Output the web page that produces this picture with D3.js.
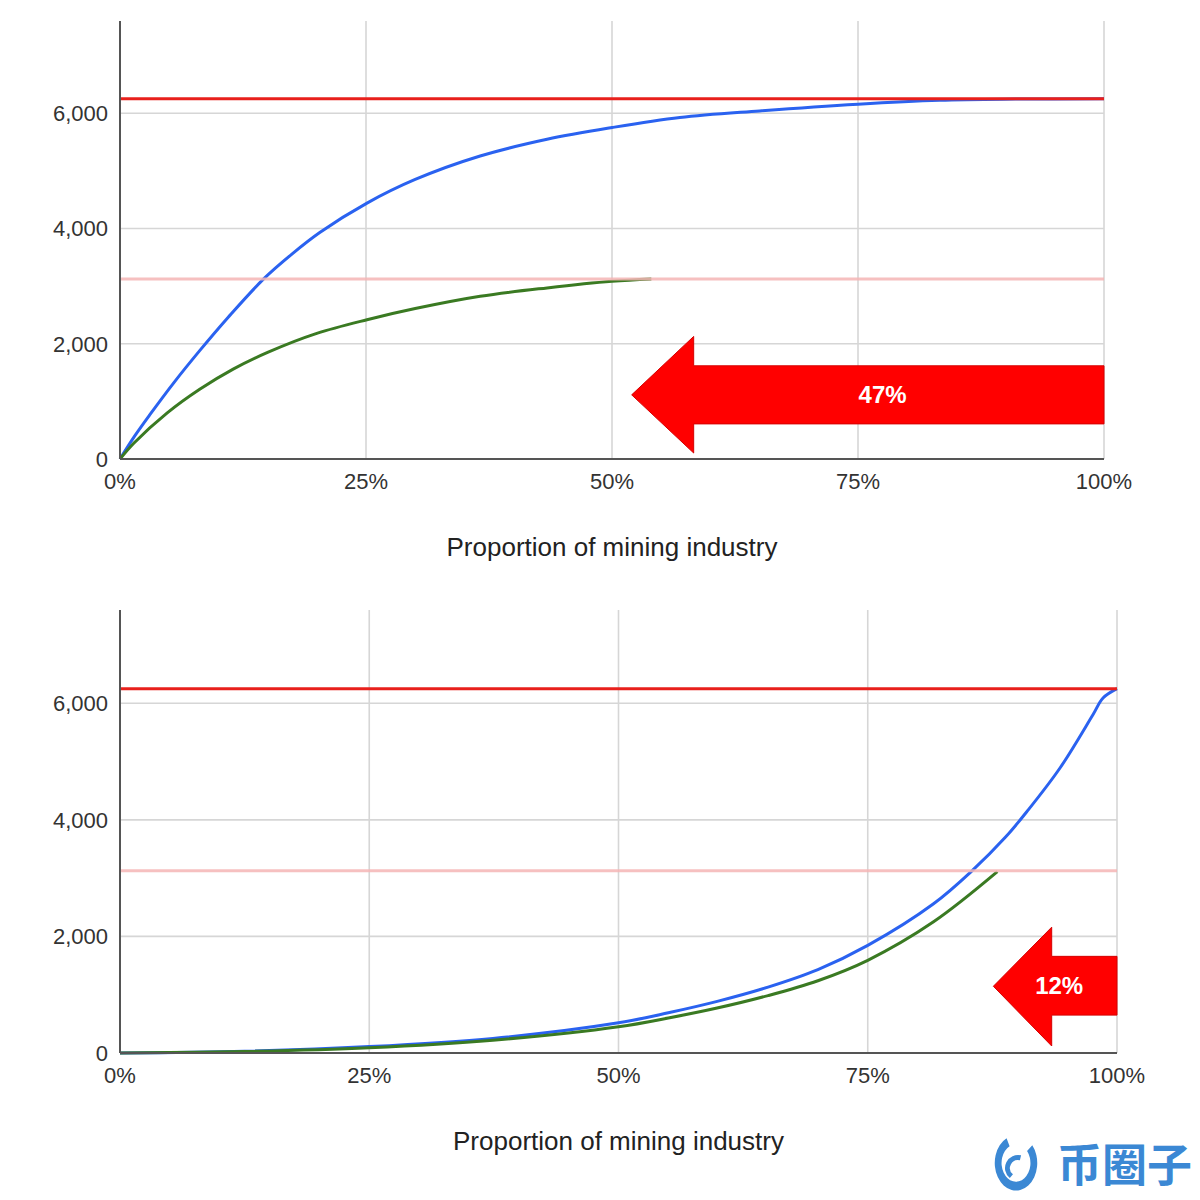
<!DOCTYPE html>
<html>
<head>
<meta charset="utf-8">
<script src="https://cdn.jsdelivr.net/npm/d3@7"></script>
<style>
  body { margin: 0; background: #fff; }
  svg { display: block; font-family: "Liberation Sans", Arial, sans-serif; }
</style>
</head>
<body>
<svg id="chart" width="1200" height="1200"></svg>
<script>
// x = proportion of mining industry (%), y = value
const xTicks = [0, 25, 50, 75, 100];
const yTicks = [0, 2000, 4000, 6000];
const capLevel = 6250;
const halfLevel = 3125;

const topBlue = [[0,0],[1.5,400],[3,760],[5.5,1330],[8.1,1880],[11,2460],[14.6,3125],[17.5,3560],[20.3,3930],[25.1,4440],[30,4850],[36.6,5257],[43.4,5548],[50,5751],[56.9,5925],[65,6040],[75,6157],[83.3,6225],[91,6245],[100,6250]];
const topGreen = [[0,0],[1.4,273],[4.8,800],[8.1,1210],[11.5,1560],[15,1850],[20,2180],[25.1,2417],[30,2610],[36.6,2823],[43.4,2969],[50,3084],[54,3125]];
const bottomBlue = [[0,0],[12.5,30],[25,110],[37.4,251],[50,518],[55,690],[60,890],[65,1130],[70,1430],[75,1846],[81.6,2560],[85.4,3116],[88.8,3700],[91,4150],[94.3,4894],[97.6,5807],[98.6,6090],[100,6250]];
const bottomGreen = [[0,0],[12.5,25],[25,90],[37.4,220],[50,450],[55,600],[60,775],[65,985],[70,1240],[75,1590],[81.6,2250],[88,3110]];

// arrow annotations: [tip x%, tip y, head base x%, head top, head bottom, shaft top, shaft bottom], label
const topArrow = { pts: [52, 1113, 58.3, 2127, 104, 1617, 609], label: "47%" };
const bottomArrow = { pts: [87.6, 1145, 93.45, 2159, 120, 1658, 650], label: "12%" };

const svg = d3.select("#chart");

function drawChart(cfg) {
    const x = d3.scaleLinear().domain([0, 100]).range([cfg.left, cfg.right]);
    const y = d3.scaleLinear().domain([0, 7600]).range([cfg.bottom, cfg.top]);
    const g = svg.append("g");

    // grid
    g.selectAll(".vgrid").data(xTicks.slice(1)).join("line")
        .attr("x1", d => x(d)).attr("x2", d => x(d))
        .attr("y1", cfg.top).attr("y2", cfg.bottom)
        .attr("stroke", "#d6d6d6").attr("stroke-width", 1.6);
    g.selectAll(".hgrid").data(yTicks.slice(1)).join("line")
        .attr("x1", cfg.left).attr("x2", cfg.right)
        .attr("y1", d => y(d)).attr("y2", d => y(d))
        .attr("stroke", "#d6d6d6").attr("stroke-width", 1.6);

    const line = d3.line().x(d => x(d[0])).y(d => y(d[1])).curve(d3.curveCatmullRom.alpha(0.5));

    // arrow
    const a = cfg.arrow.pts;
    const arrowPts = [
        [a[0], a[1]], [a[2], a[3]], [a[2], a[5]], [100, a[5]],
        [100, a[6]], [a[2], a[6]], [a[2], a[4]]
    ];
    g.append("path")
        .attr("d", d3.line().x(d => x(d[0])).y(d => y(d[1]))(arrowPts) + "Z")
        .attr("fill", "#ff0000").attr("stroke", "#d50000").attr("stroke-width", 1);
    g.append("text")
        .attr("x", x(cfg.labelX)).attr("y", y(a[1]) + 8)
        .attr("text-anchor", "middle")
        .attr("font-size", 24).attr("font-weight", "bold")
        .attr("fill", "#fff").text(cfg.arrow.label);

    g.append("path").datum(cfg.blue).attr("d", line)
        .attr("fill", "none").attr("stroke", "#2a62f0").attr("stroke-width", 3);
    g.append("path").datum(cfg.green).attr("d", line)
        .attr("fill", "none").attr("stroke", "#3a7a22").attr("stroke-width", 3);

    g.append("line")
        .attr("x1", cfg.left).attr("x2", cfg.right)
        .attr("y1", y(halfLevel)).attr("y2", y(halfLevel))
        .attr("stroke", "#f5b5b5").attr("stroke-opacity", 0.85).attr("stroke-width", 3);
    g.append("line")
        .attr("x1", cfg.left).attr("x2", cfg.right)
        .attr("y1", y(capLevel)).attr("y2", y(capLevel))
        .attr("stroke", "#e8201c").attr("stroke-width", 3);

    // axes lines
    g.append("line")
        .attr("x1", cfg.left).attr("x2", cfg.left)
        .attr("y1", cfg.top).attr("y2", cfg.bottom)
        .attr("stroke", "#555").attr("stroke-width", 2);
    g.append("line")
        .attr("x1", cfg.left).attr("x2", cfg.right)
        .attr("y1", cfg.bottom).attr("y2", cfg.bottom)
        .attr("stroke", "#555").attr("stroke-width", 2);

    // tick labels
    g.selectAll(".ylab").data(yTicks).join("text")
        .attr("x", cfg.left - 12).attr("y", d => y(d) + 8)
        .attr("text-anchor", "end").attr("font-size", 22).attr("fill", "#333")
        .text(d => d3.format(",")(d));
    g.selectAll(".xlab").data(xTicks).join("text")
        .attr("x", d => x(d)).attr("y", cfg.bottom + 30)
        .attr("text-anchor", "middle").attr("font-size", 22).attr("fill", "#333")
        .text(d => d + "%");

    g.append("text")
        .attr("x", (cfg.left + cfg.right) / 2).attr("y", cfg.bottom + 97)
        .attr("text-anchor", "middle").attr("font-size", 26).attr("fill", "#222")
        .text("Proportion of mining industry");
}

drawChart({ left: 120, right: 1104, top: 21, bottom: 459,
    blue: topBlue, green: topGreen, arrow: topArrow, labelX: 77.5 });
drawChart({ left: 120, right: 1117, top: 610, bottom: 1053,
    blue: bottomBlue, green: bottomGreen, arrow: bottomArrow, labelX: 94.2 });

// watermark
const wm = svg.append("g").attr("fill", "#3b88d4");
const swirl = d3.arc().innerRadius(17).outerRadius(25).startAngle(0.35).endAngle(5.3);
wm.append("path").attr("d", swirl())
    .attr("transform", "translate(1016,1163) scale(0.85,1.1) rotate(30)");
const swirl2 = d3.arc().innerRadius(8).outerRadius(13).startAngle(3.3).endAngle(6.0);
wm.append("path").attr("d", swirl2())
    .attr("transform", "translate(1018,1168) rotate(30)");
wm.append("text")
    .attr("x", 1057).attr("y", 1182)
    .attr("font-family", "'Noto Sans CJK SC', sans-serif")
    .attr("font-size", 45).attr("font-weight", "bold")
    .text("币圈子");
</script>
</body>
</html>
